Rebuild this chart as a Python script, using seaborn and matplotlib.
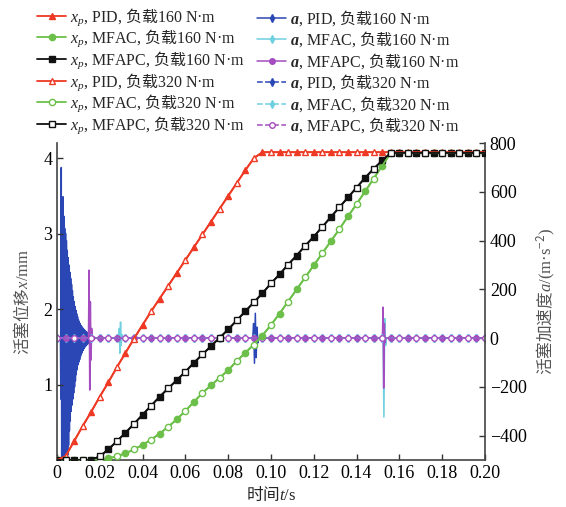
import numpy as np
import pandas as pd
import matplotlib
matplotlib.use("Agg")
import matplotlib.pyplot as plt
import seaborn as sns

# %% data (time in ms)
t_ms = [0, 4, 8, 12, 16, 20, 24, 28, 32, 36, 40, 44, 48, 52, 56, 60, 64, 68, 72, 76,
        80, 84, 88, 92, 96, 100, 104, 108, 112, 116, 120, 124, 128, 132, 136, 140, 144,
        148, 152, 156, 160, 164, 168, 172, 176, 180, 184, 188, 192, 196, 200]

# piston displacement x_p / mm (160 and 320 N*m curves lie on top of each other)
xp_pid = [0, 0.05, 0.25, 0.45, 0.64, 0.84, 1.03, 1.23, 1.42, 1.61, 1.79, 1.97, 2.14,
          2.31, 2.48, 2.65, 2.82, 2.99, 3.16, 3.33, 3.50, 3.67, 3.84, 4.00, 4.08,
          4.08, 4.08, 4.08, 4.08, 4.08, 4.08, 4.08, 4.08, 4.08, 4.08, 4.08, 4.08,
          4.08, 4.08, 4.08, 4.08, 4.08, 4.08, 4.08, 4.08, 4.08, 4.08, 4.08, 4.08,
          4.08, 4.08]
xp_mfac = [0, 0, 0, 0, 0, 0.005, 0.02, 0.05, 0.09, 0.14, 0.20, 0.27, 0.35, 0.44, 0.54,
           0.65, 0.77, 0.89, 0.99, 1.09, 1.19, 1.31, 1.42, 1.53, 1.65, 1.79, 1.94, 2.10,
           2.26, 2.42, 2.58, 2.74, 2.90, 3.06, 3.23, 3.39, 3.56, 3.73, 3.90, 4.07,
           4.07, 4.07, 4.07, 4.07, 4.07, 4.07, 4.07, 4.07, 4.07, 4.07, 4.07]
xp_mfapc = [0, 0, 0, 0, 0, 0.05, 0.14, 0.25, 0.36, 0.48, 0.60, 0.72, 0.84, 0.95, 1.06,
            1.17, 1.29, 1.40, 1.51, 1.62, 1.73, 1.85, 1.97, 2.09, 2.21, 2.34, 2.46, 2.59,
            2.71, 2.84, 2.96, 3.09, 3.22, 3.35, 3.48, 3.61, 3.74, 3.86, 3.97, 4.07,
            4.07, 4.07, 4.07, 4.07, 4.07, 4.07, 4.07, 4.07, 4.07, 4.07, 4.07]

# piston acceleration a / (m/s^2): zero baseline plus oscillation bursts
a_zero = [0] * len(t_ms)

pid_burst_t = [1.6, 1.8, 2.0, 2.2, 2.4, 2.6, 2.8, 3.0, 3.2, 3.4, 3.6, 3.8, 4.0, 4.2, 4.4,
               4.6, 4.8, 5.0, 5.2, 5.4, 5.6, 5.8, 6.0, 6.2, 6.4, 6.6, 6.8, 7.0, 7.2, 7.4,
               7.6, 7.8, 8.0, 8.2, 8.4, 8.6, 8.8, 9.0, 9.2, 9.4, 9.6, 9.8, 10.0, 10.2,
               10.4, 10.6, 10.8, 11.0, 11.2, 11.4, 11.6, 11.8, 12.0, 12.2, 12.4, 12.6,
               12.8, 13.0, 13.2, 13.4, 13.6, 13.8, 14.0, 14.2, 14.4, 14.6, 14.8, 15.0,
               15.2, 15.4, 15.6, 15.8, 16.0, 16.2, 16.4, 16.6, 16.8, 17.0, 17.2, 17.4,
               17.6, 17.8, 18.0]
pid_burst_a = [0, -250, 700, -560, 520, -600, 580, -600, 500, -580, 450, -580, 430, -560,
               400, -540, 360, -480, 330, -440, 300, -380, 270, -340, 245, -300, 220, -275,
               195, -250, 170, -225, 150, -200, 130, -175, 115, -150, 100, -130, 88, -110,
               75, -98, 68, -88, 60, -75, 52, -66, 47, -58, 42, -50, 38, -43, 34, -37, 30,
               -33, 27, -29, 24, -25, 21, -22, 18, -19, 16, -16, 13, -13, 11, -11, 9, -9,
               7, -7, 5, -5, 3, -2, 0]
pid_spike_t = [91.5, 91.9, 92.3, 92.7, 93.1, 93.5, 93.9, 94.3]
pid_spike_a = [0, 60, -103, 102, -80, 45, -20, 0]

mfac_spike1_t = [28.8, 29.1, 29.4, 29.7, 30.0, 30.3, 30.6]
mfac_spike1_a = [0, 40, -62, 66, -30, 15, 0]
mfac_spike2_t = [152.4, 152.8, 153.2, 153.6, 154.0]
mfac_spike2_a = [0, -324, 80, -30, 0]

mfapc_spike1_t = [14.7, 15.0, 15.3, 15.6, 15.9, 16.2, 16.5]
mfapc_spike1_a = [0, 279, -213, 150, -90, 40, 0]
mfapc_spike2_t = [152.1, 152.4, 152.7, 153.0, 153.3, 153.6]
mfapc_spike2_a = [0, 127, -205, 60, -20, 0]

x_ticks = [0, 0.02, 0.04, 0.06, 0.08, 0.10, 0.12, 0.14, 0.16, 0.18, 0.20]
x_tick_labels = ["0", "0.02", "0.04", "0.06", "0.08", "0.10", "0.12", "0.14",
                 "0.16", "0.18", "0.20"]
xp_ticks = [1, 2, 3, 4]
a_ticks = [-400, -200, 0, 200, 400, 600, 800]

# %% style
sns.set_style("ticks")
plt.rcParams["font.family"] = ["Liberation Serif", "Noto Sans CJK SC"]
plt.rcParams["mathtext.fontset"] = "custom"
plt.rcParams["mathtext.rm"] = "Noto Sans CJK SC"
plt.rcParams["mathtext.it"] = "Liberation Serif:italic"
plt.rcParams["mathtext.bf"] = "Liberation Serif:bold"
plt.rcParams["mathtext.bfit"] = "Liberation Serif:bold:italic"
plt.rcParams["xtick.direction"] = "in"
plt.rcParams["ytick.direction"] = "in"
plt.rcParams["path.simplify"] = False

red, green, black = "#ee3a24", "#6cc04a", "#111111"
blue, cyan, purple = "#2b47b5", "#6fd0e0", "#a44cc0"


def xp_frame(values):
    return pd.DataFrame({"t": np.array(t_ms) / 1000, "x": values})


def a_frame(spikes, offset):
    base = pd.DataFrame({"t": t_ms, "a": a_zero})
    base["mark"] = [i % 2 == offset for i in range(len(base))]
    for ts, vs in spikes:
        base = base[(base.t < min(ts)) | (base.t > max(ts))]
    parts = [base] + [pd.DataFrame({"t": ts, "a": vs, "mark": False}) for ts, vs in spikes]
    df = pd.concat(parts).sort_values("t").reset_index(drop=True)
    df["t"] = df["t"] / 1000
    return df


fig = plt.figure(figsize=(5.66, 5.07), dpi=100)
ax_a = fig.add_axes([0.1007, 0.0927, 0.756, 0.625])
ax_x = ax_a.twinx()

# %% acceleration (right axis)
a_series = [
    ([(pid_burst_t, pid_burst_a), (pid_spike_t, pid_spike_a)], 1, blue, "-", "d", blue,
     r"$\mathbfit{a}$, PID, $\mathrm{负载}$160 N·m"),
    ([(mfac_spike1_t, mfac_spike1_a), (mfac_spike2_t, mfac_spike2_a)], 1, cyan, "-", "d", cyan,
     r"$\mathbfit{a}$, MFAC, $\mathrm{负载}$160 N·m"),
    ([(mfapc_spike1_t, mfapc_spike1_a), (mfapc_spike2_t, mfapc_spike2_a)], 1, purple, "-", "o", purple,
     r"$\mathbfit{a}$, MFAPC, $\mathrm{负载}$160 N·m"),
    ([], 0, blue, "--", "d", blue, r"$\mathbfit{a}$, PID, $\mathrm{负载}$320 N·m"),
    ([], 0, cyan, "--", "d", cyan, r"$\mathbfit{a}$, MFAC, $\mathrm{负载}$320 N·m"),
    ([], 0, purple, "--", "o", "white", r"$\mathbfit{a}$, MFAPC, $\mathrm{负载}$320 N·m"),
]
for spikes, off, col, ls, mk, mfc, lbl in a_series:
    df = a_frame(spikes, off)
    sns.lineplot(data=df, x="t", y="a", ax=ax_a, color=col, linestyle=ls, lw=1.1,
                 marker=mk, ms=4, mec=col, mfc=mfc, mew=1.0, markevery=list(df["mark"]),
                 estimator=None, sort=False, legend=False, label=lbl)

# %% displacement (left axis)
xp_series = [
    (xp_pid, (0, 2), red, "^", red, r"$x_p$, PID, $\mathrm{负载}$160 N·m"),
    (xp_mfac, (0, 2), green, "o", green, r"$x_p$, MFAC, $\mathrm{负载}$160 N·m"),
    (xp_mfapc, (0, 2), black, "s", black, r"$x_p$, MFAPC, $\mathrm{负载}$160 N·m"),
    (xp_pid, (1, 2), red, "^", "white", r"$x_p$, PID, $\mathrm{负载}$320 N·m"),
    (xp_mfac, (1, 2), green, "o", "white", r"$x_p$, MFAC, $\mathrm{负载}$320 N·m"),
    (xp_mfapc, (1, 2), black, "s", "white", r"$x_p$, MFAPC, $\mathrm{负载}$320 N·m"),
]
for vals, mev, col, mk, mfc, lbl in xp_series:
    sns.lineplot(data=xp_frame(vals), x="t", y="x", ax=ax_x, color=col, lw=1.3,
                 marker=mk, ms=4.5, mec=col, mfc=mfc, mew=1.0, markevery=mev,
                 estimator=None, sort=False, legend=False, label=lbl)

# %% axes
ax_a.set_xlim(0, 0.2)
ax_a.set_ylim(-500, 800)
ax_x.set_ylim(0, 4.2)
ax_a.set_xticks(x_ticks)
ax_a.set_xticklabels(x_tick_labels)
ax_a.set_yticks(a_ticks)
ax_x.set_yticks(xp_ticks)

ax_a.yaxis.tick_right()
ax_a.yaxis.set_label_position("right")
ax_x.yaxis.tick_left()
ax_x.yaxis.set_label_position("left")

for ax in (ax_a, ax_x):
    ax.tick_params(labelsize=13, length=4, width=1, colors="#333333", labelcolor="black")
    ax.spines["top"].set_visible(False)
for s in ("left", "bottom", "right"):
    ax_a.spines[s].set_color("#444444")
    ax_a.spines[s].set_linewidth(1.2)
for s in ("left", "bottom", "right"):
    ax_x.spines[s].set_visible(False)

ax_a.set_xlabel(r"$\mathrm{时间}t$/s", fontsize=12, labelpad=2)
ax_x.set_ylabel(r"$\mathrm{活塞位移}x$/mm", fontsize=12, color="#555555", labelpad=8)
ax_a.set_ylabel(r"$\mathrm{活塞加速度}a$/(m·s$^{-2}$)", fontsize=12, color="#555555",
                rotation=90, labelpad=6)

# %% legend: one column per quantity, rows kept at the same pitch
h_x, l_x = ax_x.get_legend_handles_labels()
h_a, l_a = ax_a.get_legend_handles_labels()
leg_kw = dict(loc="upper left", frameon=False, fontsize=11.5, handlelength=1.8,
              handletextpad=0.25, borderpad=0.2, borderaxespad=0)
fig.legend(h_x, l_x, bbox_to_anchor=(0.06, 0.994), labelspacing=0.0, **leg_kw)
fig.legend(h_a, l_a, bbox_to_anchor=(0.449, 0.990), labelspacing=0.105, **leg_kw)

fig.savefig("out.png", dpi=100)
